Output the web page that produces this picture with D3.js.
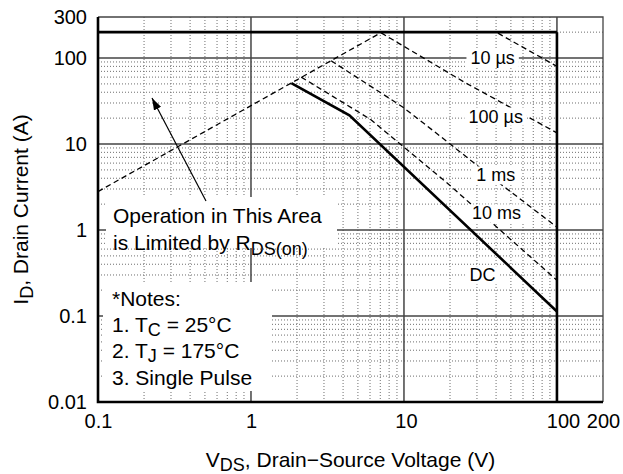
<!DOCTYPE html>
<html>
<head>
<meta charset="utf-8">
<script src="https://cdn.jsdelivr.net/npm/d3@7"></script>
<style>
body { margin: 0; background: #fff; }
text { font-family: "Liberation Sans", Arial, Helvetica, sans-serif; fill: #000; }
</style>
</head>
<body>
<script>
// tick labels
var xTicks = [0.1, 1, 10, 100, 200];
var yTicks = [0.01, 0.1, 1, 10, 100, 300];

// safe operating area curves, [V, A]
var rdsLimit = [[0.1, 2.8], [7.1, 198]];
var pulse10us = [[7.1, 200], [40, 200], [100, 80]];
var pulse100us = [[7.1, 196], [25, 52], [100, 13.5]];
var pulse1ms = [[3.34, 93], [9.8, 27], [17, 12.6], [44, 3.3], [100, 1.08]];
var pulse10ms = [[2.13, 60], [6, 19.5], [20, 3.3], [40, 1.1], [100, 0.26]];
var dcLimit = [[1.835, 51], [4.4, 21.6], [100, 0.113]];
var currentLimit = [[0.1, 200], [100, 200]];
var voltageLimit = [[100, 200], [100, 0.01]];

// curve labels, placed at [V, A]
var labelText = ["10 \u00b5s", "100 \u00b5s", "1 ms", "10 ms", "DC"];
var labelPos = [[38, 100], [39.8, 21], [39.8, 4.35], [40.2, 1.57], [32.6, 0.3]];

var width = 623, height = 474;
var plotL = 98, plotR = 603, plotT = 17, plotB = 402;

var svg = d3.select("body")
    .append("svg")
    .attr("width", width)
    .attr("height", height);

var x = d3.scaleLog().domain([0.1, 200]).range([plotL, plotR]);
var y = d3.scaleLog().domain([0.01, 300]).range([plotB, plotT]);

function isMajor(d) {
    var l = Math.log10(d);
    return Math.abs(l - Math.round(l)) < 1e-6;
}

// minor grid (dotted)
var grid = svg.append("g");
grid.selectAll(".vminor")
    .data(x.ticks().filter(function(d){ return !isMajor(d) && d < 199; }))
    .enter().append("line")
    .attr("x1", function(d){ return x(d); })
    .attr("x2", function(d){ return x(d); })
    .attr("y1", plotT).attr("y2", plotB)
    .attr("stroke", "#6e6e6e").attr("stroke-width", 1)
    .attr("stroke-dasharray", "1,2");
grid.selectAll(".hminor")
    .data(y.ticks().filter(function(d){ return !isMajor(d) && d < 299; }))
    .enter().append("line")
    .attr("y1", function(d){ return y(d); })
    .attr("y2", function(d){ return y(d); })
    .attr("x1", plotL).attr("x2", plotR)
    .attr("stroke", "#6e6e6e").attr("stroke-width", 1)
    .attr("stroke-dasharray", "1,2");

// major grid (solid)
grid.selectAll(".vmajor")
    .data([1, 10, 100])
    .enter().append("line")
    .attr("x1", function(d){ return x(d); })
    .attr("x2", function(d){ return x(d); })
    .attr("y1", plotT).attr("y2", plotB)
    .attr("stroke", "#444").attr("stroke-width", 1.5);
grid.selectAll(".hmajor")
    .data([0.1, 1, 10, 100])
    .enter().append("line")
    .attr("y1", function(d){ return y(d); })
    .attr("y2", function(d){ return y(d); })
    .attr("x1", plotL).attr("x2", plotR)
    .attr("stroke", "#444").attr("stroke-width", 1.5);

// top and right frame
svg.append("path")
    .attr("d", "M" + plotL + "," + plotT + "H" + plotR + "V" + plotB)
    .attr("fill", "none").attr("stroke", "#444").attr("stroke-width", 1.3);

// white boxes behind the notes
svg.append("rect").attr("x", 106).attr("y", 197).attr("width", 231).attr("height", 51).attr("fill", "#fff");
svg.append("rect").attr("x", 103).attr("y", 282).attr("width", 169).attr("height", 109).attr("fill", "#fff");

var line = d3.line()
    .x(function(d){ return x(d[0]); })
    .y(function(d){ return y(d[1]); });

// dashed pulse curves
[rdsLimit, pulse10us, pulse100us, pulse1ms, pulse10ms].forEach(function(c){
    svg.append("path")
        .datum(c)
        .attr("d", line)
        .attr("fill", "none")
        .attr("stroke", "#000")
        .attr("stroke-width", 1.3)
        .attr("stroke-dasharray", "5.5,3.5");
});

// DC and absolute limits
[dcLimit, currentLimit, voltageLimit].forEach(function(c){
    svg.append("path")
        .datum(c)
        .attr("d", line)
        .attr("fill", "none")
        .attr("stroke", "#000")
        .attr("stroke-width", 2.6);
});

// curve labels with white background
labelText.forEach(function(t, i){
    var g = svg.append("g");
    var txt = g.append("text")
        .attr("x", x(labelPos[i][0]))
        .attr("y", y(labelPos[i][1]))
        .attr("dy", "0.35em")
        .attr("text-anchor", "middle")
        .attr("font-size", 18)
        .text(t);
    var b = txt.node().getBBox();
    g.insert("rect", "text")
        .attr("x", b.x - 4).attr("y", b.y + 1)
        .attr("width", b.width + 8).attr("height", b.height - 2)
        .attr("fill", "#fff");
});

// axes
var xAxis = svg.append("g")
    .attr("transform", "translate(0," + plotB + ")")
    .call(d3.axisBottom(x).tickValues(xTicks).tickSize(0).tickPadding(12).tickFormat(String));
xAxis.select(".domain").remove();
xAxis.attr("font-size", 20).attr("font-family", null);
xAxis.selectAll("text").filter(function(d){ return d === 100; }).attr("dx", 6);
xAxis.selectAll("text").filter(function(d){ return d === 10; }).attr("dx", 2);

var yAxis = svg.append("g")
    .attr("transform", "translate(" + plotL + ",0)")
    .call(d3.axisLeft(y).tickValues(yTicks).tickSize(0).tickPadding(11).tickFormat(String));
yAxis.select(".domain").remove();
yAxis.attr("font-size", 20).attr("font-family", null);

// left and bottom axis lines
svg.append("path")
    .attr("d", "M" + plotL + "," + plotT + "V" + plotB + "H" + plotR)
    .attr("fill", "none").attr("stroke", "#000").attr("stroke-width", 2.6);

// arrow
svg.append("defs").append("marker")
    .attr("id", "arrow")
    .attr("viewBox", "0 0 12 8")
    .attr("refX", 12).attr("refY", 4)
    .attr("markerWidth", 12).attr("markerHeight", 8)
    .attr("markerUnits", "userSpaceOnUse")
    .attr("orient", "auto")
    .append("path").attr("d", "M0,0L12,4L0,8Z").attr("fill", "#000");
svg.append("line")
    .attr("x1", 206).attr("y1", 201)
    .attr("x2", 152).attr("y2", 98)
    .attr("stroke", "#000").attr("stroke-width", 1.2)
    .attr("marker-end", "url(#arrow)");

// operation note
svg.append("text").attr("x", 113).attr("y", 223).attr("font-size", 21).text("Operation in This Area");
var op2 = svg.append("text").attr("x", 113).attr("y", 250).attr("font-size", 21);
op2.append("tspan").text("is Limited by R");
op2.append("tspan").attr("font-size", 18).attr("dy", 5).text("DS(on)");

// notes
svg.append("text").attr("x", 112).attr("y", 306).attr("font-size", 21).text("*Notes:");
var n1 = svg.append("text").attr("x", 112).attr("y", 332).attr("font-size", 21);
n1.append("tspan").text("1. T");
n1.append("tspan").attr("font-size", 18).attr("dy", 4).text("C");
n1.append("tspan").attr("dy", -4).text(" = 25\u00b0C");
var n2 = svg.append("text").attr("x", 112).attr("y", 358).attr("font-size", 21);
n2.append("tspan").text("2. T");
n2.append("tspan").attr("font-size", 18).attr("dy", 4).text("J");
n2.append("tspan").attr("dy", -4).text(" = 175\u00b0C");
svg.append("text").attr("x", 112).attr("y", 385).attr("font-size", 21).text("3. Single Pulse");

// axis titles
var xt = svg.append("text")
    .attr("x", (plotL + plotR) / 2).attr("y", 467)
    .attr("text-anchor", "middle").attr("font-size", 21);
xt.append("tspan").text("V");
xt.append("tspan").attr("font-size", 18).attr("dy", 4).text("DS");
xt.append("tspan").attr("dy", -4).text(", Drain\u2212Source Voltage (V)");

var yt = svg.append("text")
    .attr("transform", "translate(28," + (plotT + plotB) / 2 + ") rotate(-90)")
    .attr("text-anchor", "middle").attr("font-size", 21);
yt.append("tspan").text("I");
yt.append("tspan").attr("font-size", 18).attr("dy", 5).text("D");
yt.append("tspan").attr("dy", -5).text(", Drain Current (A)");
</script>
</body>
</html>
